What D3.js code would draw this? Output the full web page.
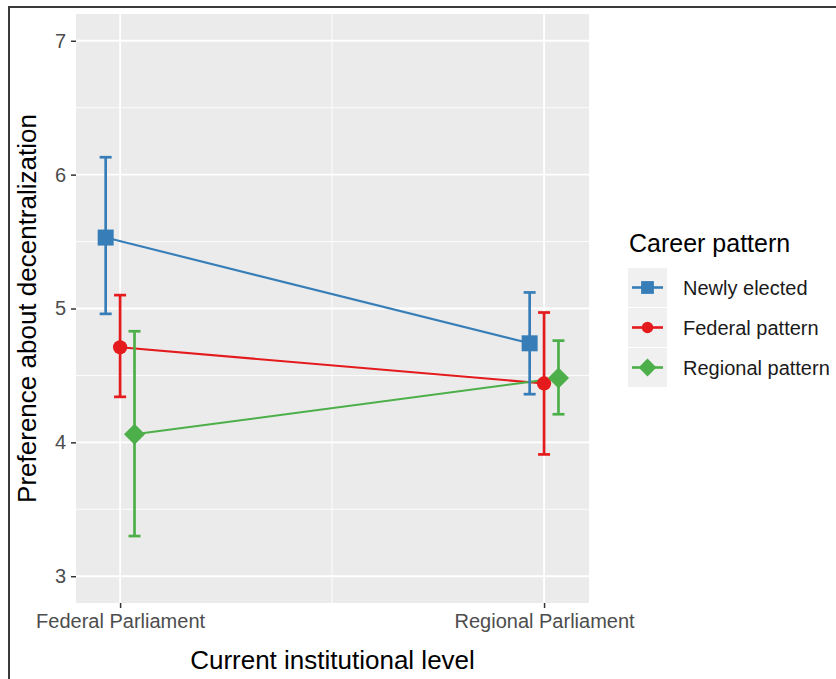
<!DOCTYPE html>
<html>
<head>
<meta charset="utf-8">
<script src="https://cdn.jsdelivr.net/npm/d3@7"></script>
<style>
  html, body { margin: 0; padding: 0; background: #fff; }
  svg { display: block; font-family: "Liberation Sans", Arial, Helvetica, sans-serif; }
</style>
</head>
<body>
<svg id="chart" width="836" height="679"></svg>
<script>
// Institutional levels on the x axis
const levels = ["Federal Parliament", "Regional Parliament"];
// Career pattern groups (legend order)
const groups = ["Newly elected", "Federal pattern", "Regional pattern"];
const groupColors = ["#377EB8", "#E41A1C", "#4DAF4A"];
const groupShapes = ["square", "circle", "diamond"];

// Mean preference about decentralization per group, one value per level
const meanNewly    = [5.53, 4.74];
const meanFederal  = [4.71, 4.44];
const meanRegional = [4.06, 4.48];
// Confidence interval bounds
const lowNewly     = [4.96, 4.36];
const highNewly    = [6.13, 5.12];
const lowFederal   = [4.34, 3.91];
const highFederal  = [5.10, 4.97];
const lowRegional  = [3.30, 4.21];
const highRegional = [4.83, 4.76];

const yTicks = [3, 4, 5, 6, 7];
const yMinor = [3.5, 4.5, 5.5, 6.5];

const means = [meanNewly, meanFederal, meanRegional];
const lows = [lowNewly, lowFederal, lowRegional];
const highs = [highNewly, highFederal, highRegional];

// Horizontal dodge of each group around its level
const dodge = [-0.034, 0, 0.034];

const series = groups.map((g, gi) => ({
  name: g, color: groupColors[gi], shape: groupShapes[gi],
  pts: levels.map((lv, li) => ({
    x: li + 1 + dodge[gi], y: means[gi][li], lo: lows[gi][li], hi: highs[gi][li]
  }))
}));

const svg = d3.select("#chart");
const panel = { left: 76, right: 589, top: 14, bottom: 603 };

const x = d3.scaleLinear().domain([0.896, 2.106]).range([panel.left, panel.right]);
const y = d3.scaleLinear().domain([2.8, 7.2]).range([panel.bottom, panel.top]);

// Outer frame
svg.append("path")
  .attr("d", "M9,679V7H836")
  .attr("fill", "none").attr("stroke", "#3a3a3a").attr("stroke-width", 2);

// Panel background
svg.append("rect")
  .attr("x", panel.left).attr("y", panel.top)
  .attr("width", panel.right - panel.left).attr("height", panel.bottom - panel.top)
  .attr("fill", "#EBEBEB");

// Grid lines
const grid = svg.append("g");
grid.selectAll(".ymin").data(yMinor).join("line")
  .attr("x1", panel.left).attr("x2", panel.right)
  .attr("y1", d => y(d)).attr("y2", d => y(d))
  .attr("stroke", "#fff").attr("stroke-width", 0.9);
grid.selectAll(".xmin").data([1.5]).join("line")
  .attr("y1", panel.top).attr("y2", panel.bottom)
  .attr("x1", d => x(d)).attr("x2", d => x(d))
  .attr("stroke", "#fff").attr("stroke-width", 0.9);
grid.selectAll(".ymaj").data(yTicks).join("line")
  .attr("x1", panel.left).attr("x2", panel.right)
  .attr("y1", d => y(d)).attr("y2", d => y(d))
  .attr("stroke", "#fff").attr("stroke-width", 1.8);
grid.selectAll(".xmaj").data([1, 2]).join("line")
  .attr("y1", panel.top).attr("y2", panel.bottom)
  .attr("x1", d => x(d)).attr("x2", d => x(d))
  .attr("stroke", "#fff").attr("stroke-width", 1.8);

// Axes
const yAxis = d3.axisLeft(y).tickValues(yTicks).tickSize(5).tickPadding(5).tickFormat(d3.format("d"));
const gy = svg.append("g").attr("transform", `translate(${panel.left},0)`).call(yAxis);
gy.select(".domain").remove();
gy.selectAll(".tick line").attr("stroke", "#333").attr("stroke-width", 1.5);
gy.selectAll(".tick text").attr("fill", "#4D4D4D").style("font-size", "20px")
  .style("font-family", "'Liberation Sans', Arial, sans-serif");

const xAxis = d3.axisBottom(x).tickValues([1, 2]).tickSize(5).tickPadding(6)
  .tickFormat(d => levels[d - 1]);
const gx = svg.append("g").attr("transform", `translate(0,${panel.bottom})`).call(xAxis);
gx.select(".domain").remove();
gx.selectAll(".tick line").attr("stroke", "#333").attr("stroke-width", 1.5);
gx.selectAll(".tick text").attr("fill", "#4D4D4D").style("font-size", "20px")
  .style("font-family", "'Liberation Sans', Arial, sans-serif");

// Axis titles
svg.append("text")
  .attr("x", (panel.left + panel.right) / 2).attr("y", 669)
  .attr("text-anchor", "middle").attr("fill", "#000").style("font-size", "26px")
  .text("Current institutional level");
svg.append("text")
  .attr("transform", `translate(36,${(panel.top + panel.bottom) / 2}) rotate(-90)`)
  .attr("text-anchor", "middle").attr("fill", "#000").style("font-size", "26px")
  .text("Preference about decentralization");

// Marker shapes
function markerPath(shape) {
  if (shape === "square") return d3.symbol(d3.symbolSquare, 256)();
  if (shape === "circle") return d3.symbol(d3.symbolCircle, 160)();
  return "M0,-10.5L10.5,0L0,10.5L-10.5,0Z";
}

const line = d3.line().x(d => x(d.x)).y(d => y(d.y));
const marks = svg.append("g");

// Connecting lines
series.forEach(s => {
  marks.append("path").attr("d", line(s.pts))
    .attr("fill", "none").attr("stroke", s.color).attr("stroke-width", 2.1);
});

// Error bars
const capHalf = 6;
series.forEach(s => {
  const eb = marks.append("g").attr("stroke", s.color).attr("stroke-width", 2.7);
  s.pts.forEach(p => {
    eb.append("line").attr("x1", x(p.x)).attr("x2", x(p.x)).attr("y1", y(p.lo)).attr("y2", y(p.hi));
    eb.append("line").attr("x1", x(p.x) - capHalf).attr("x2", x(p.x) + capHalf).attr("y1", y(p.lo)).attr("y2", y(p.lo));
    eb.append("line").attr("x1", x(p.x) - capHalf).attr("x2", x(p.x) + capHalf).attr("y1", y(p.hi)).attr("y2", y(p.hi));
  });
});

// Points
series.forEach(s => {
  marks.selectAll(null).data(s.pts).join("path")
    .attr("transform", d => `translate(${x(d.x)},${y(d.y)})`)
    .attr("d", markerPath(s.shape)).attr("fill", s.color);
});

// Legend
const legend = svg.append("g").attr("transform", "translate(628,0)");
legend.append("text").attr("x", 1).attr("y", 252).attr("fill", "#000")
  .style("font-size", "25px").text("Career pattern");
const keyH = 40, keyW = 39, key0 = 268;
series.forEach((s, i) => {
  const ky = key0 + i * keyH;
  legend.append("rect").attr("x", 0).attr("y", ky).attr("width", keyW).attr("height", keyH - 1)
    .attr("fill", "#F0F0F0");
  legend.append("line").attr("x1", 4).attr("x2", keyW - 4)
    .attr("y1", ky + (keyH - 1) / 2).attr("y2", ky + (keyH - 1) / 2)
    .attr("stroke", s.color).attr("stroke-width", 2.6);
  const sc = s.shape === "diamond" ? 0.85 : 0.8;
  legend.append("path")
    .attr("transform", `translate(${keyW / 2},${ky + (keyH - 1) / 2}) scale(${sc})`)
    .attr("d", markerPath(s.shape)).attr("fill", s.color);
  legend.append("text").attr("x", 55).attr("y", ky + (keyH - 1) / 2 + 7)
    .attr("fill", "#1a1a1a").style("font-size", "20px").text(s.name);
});
</script>
</body>
</html>
